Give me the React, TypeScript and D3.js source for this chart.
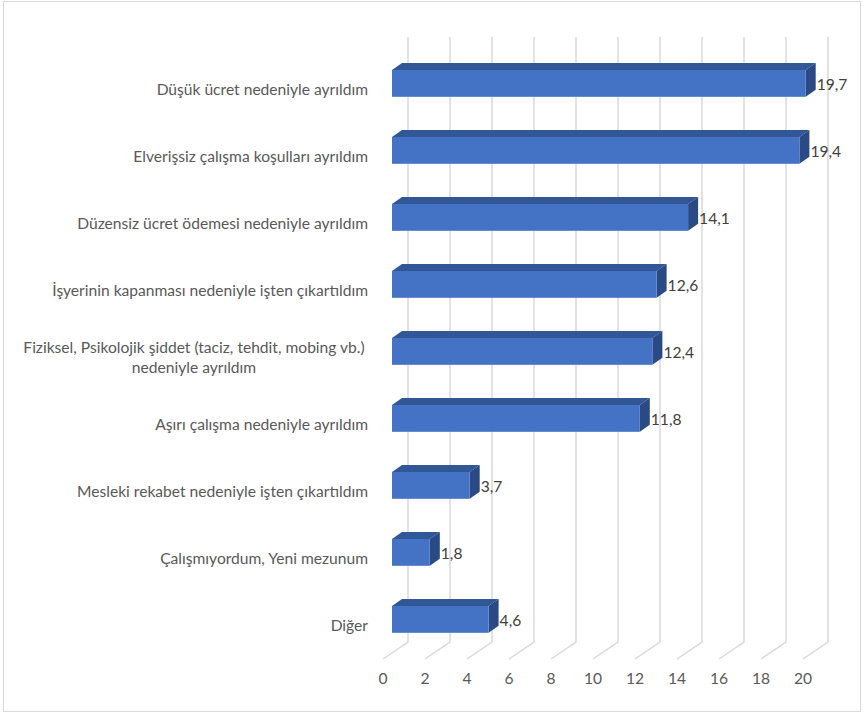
import React from "react";
import * as d3 from "d3";

const categories: string[][] = [
  ["Düşük ücret nedeniyle ayrıldım"],
  ["Elverişsiz çalışma koşulları ayrıldım"],
  ["Düzensiz ücret ödemesi nedeniyle ayrıldım"],
  ["İşyerinin kapanması nedeniyle işten çıkartıldım"],
  ["Fiziksel, Psikolojik şiddet (taciz, tehdit, mobing vb.)", "nedeniyle ayrıldım"],
  ["Aşırı çalışma nedeniyle ayrıldım"],
  ["Mesleki rekabet nedeniyle işten çıkartıldım"],
  ["Çalışmıyordum, Yeni mezunum"],
  ["Diğer"],
];
const values: number[] = [19.7, 19.4, 14.1, 12.6, 12.4, 11.8, 3.7, 1.8, 4.6];
const ticks: number[] = [0, 2, 4, 6, 8, 10, 12, 14, 16, 18, 20];

const W = 864;
const H = 716;
const FONT = "Lato, 'Open Sans', sans-serif";
const FS = 15.6;

export default function App() {
  const x = d3.scaleLinear().domain([0, 20]).range([0, 420]);
  const ids = categories.map((_, i) => String(i));
  const y = d3
    .scaleBand<string>()
    .domain(ids)
    .range([49.9, 652.9])
    .paddingInner(0.6)
    .paddingOuter(0.3);

  const floorX0 = 383;
  const floorY = 659;
  const wallX0 = 408;
  const wallTop = 37;
  const wallBottom = 642;
  const barX0 = 392;
  const depthDx = 10;
  const depthDy = -7;

  const fmt = (v: number) => v.toFixed(1).replace(".", ",");

  return (
    <svg
      width={W}
      height={H}
      style={{ position: "absolute", left: 0, top: 0, background: "#fff" }}
      fontFamily={FONT}
    >
      <rect x={3.5} y={1.5} width={857} height={710} fill="#fff" stroke="#d9d9d9" strokeWidth={1} />
      {ticks.map((t) => (
        <g key={t}>
          <path
            d={`M${wallX0 + x(t)},${wallTop} L${wallX0 + x(t)},${wallBottom} L${floorX0 + x(t)},${floorY}`}
            fill="none"
            stroke="#d9d9d9"
            strokeWidth={1.5}
          />
          <text
            x={floorX0 + x(t)}
            y={678}
            textAnchor="middle"
            dominantBaseline="central"
            fontSize={FS}
            fill="#595959"
          >
            {t}
          </text>
        </g>
      ))}
      {values.map((v, i) => {
        const y0 = y(ids[i]) as number;
        const h = y.bandwidth();
        const x0 = barX0;
        const x1 = barX0 + x(v);
        return (
          <g key={i}>
            <polygon
              points={`${x0},${y0} ${x0 + depthDx},${y0 + depthDy} ${x1 + depthDx},${y0 + depthDy} ${x1},${y0}`}
              fill="#325797"
            />
            <polygon
              points={`${x1},${y0} ${x1 + depthDx},${y0 + depthDy} ${x1 + depthDx},${y0 + h + depthDy} ${x1},${y0 + h}`}
              fill="#2a4a85"
            />
            <rect x={x0} y={y0} width={x1 - x0} height={h} fill="#4472c4" />
            <text
              x={x1 + depthDx + 1}
              y={y0 + h / 2 + 1}
              dominantBaseline="central"
              fontSize={FS}
              fill="#404040"
            >
              {fmt(v)}
            </text>
          </g>
        );
      })}
      {categories.map((lines, i) => {
        const cy = (y(ids[i]) as number) + y.bandwidth() / 2 + 5.5;
        const multi = lines.length > 1;
        return (
          <text
            key={i}
            x={multi ? 194 : 368}
            textAnchor={multi ? "middle" : "end"}
            fontSize={FS}
            fill="#595959"
          >
            {lines.map((l, j) => (
              <tspan
                key={j}
                x={multi ? 194 : 368}
                y={cy + (j - (lines.length - 1) / 2) * 20}
                dominantBaseline="central"
              >
                {l}
              </tspan>
            ))}
          </text>
        );
      })}
    </svg>
  );
}
